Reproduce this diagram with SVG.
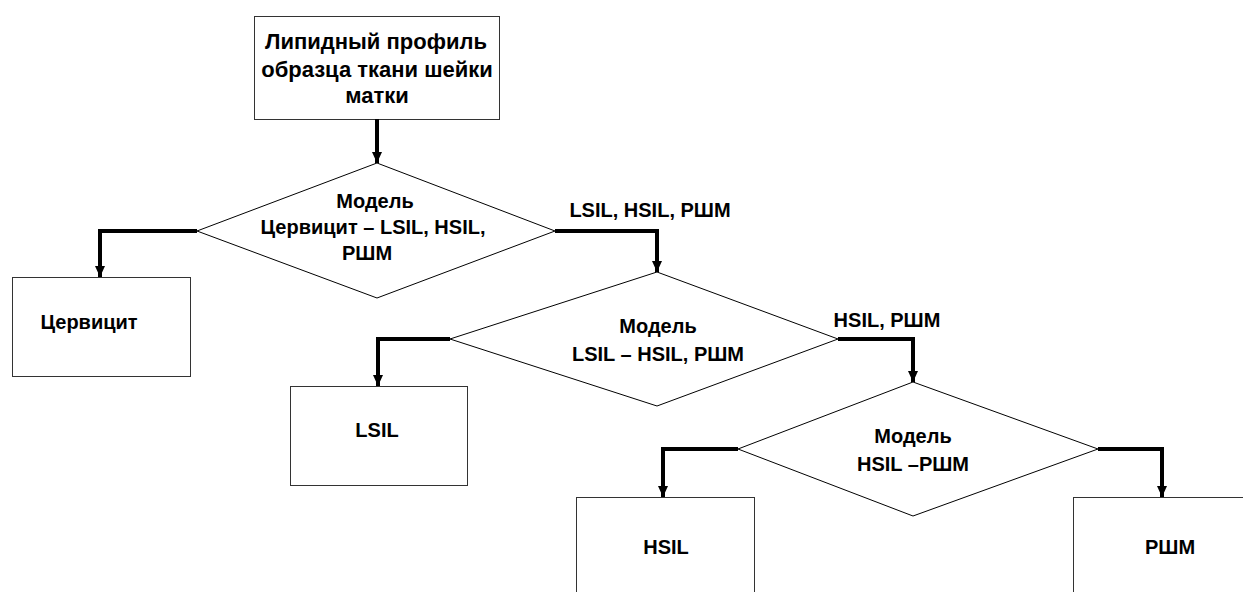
<svg xmlns="http://www.w3.org/2000/svg" width="1243" height="592" viewBox="0 0 1243 592">
<style>
.box{fill:#fff;stroke:#333;stroke-width:1}
.dia{fill:#fff;stroke:#000;stroke-width:1}
.t{font-family:"Liberation Sans",Arial,sans-serif;font-weight:bold;font-size:20px;fill:#000;text-anchor:middle}
.big{font-size:22px}
.c{fill:none;stroke:#000;stroke-width:4;marker-end:url(#ah)}
</style>
<defs>
<marker id="ah" markerUnits="userSpaceOnUse" markerWidth="12" markerHeight="12" refX="5" refY="11" orient="0" viewBox="0 0 10 12">
<path d="M0,0 L10,0 L5,11 Z" fill="#000"/>
</marker>
</defs>
<rect width="1243" height="592" fill="#fff"/>
<g id="start">
<rect class="box" x="254.5" y="16.5" width="245" height="103"/>
<text class="t big" x="376" y="49">Липидный профиль</text>
<text class="t big" x="377" y="77">образца ткани шейки</text>
<text class="t big" x="377" y="103">матки</text>
</g>
<g id="d1">
<polygon class="dia" points="377,163 555,231 377,298 197,231"/>
<text class="t" x="375" y="208">Модель</text>
<text class="t" x="373" y="234">Цервицит – LSIL, HSIL,</text>
<text class="t" x="367" y="260">РШМ</text>
</g>
<g id="cervicitis">
<rect class="box" x="12.5" y="277.5" width="178" height="99"/>
<text class="t" x="89" y="329">Цервицит</text>
</g>
<g id="d2">
<polygon class="dia" points="657,272 838,339 657,406 450,339"/>
<text class="t" x="658" y="333">Модель</text>
<text class="t" x="658" y="361">LSIL – HSIL, РШМ</text>
</g>
<g id="lsil">
<rect class="box" x="290.5" y="386.5" width="177" height="99"/>
<text class="t" x="377" y="437">LSIL</text>
</g>
<g id="d3">
<polygon class="dia" points="913,382 1098,449 913,516 738,449"/>
<text class="t" x="913" y="443">Модель</text>
<text class="t" x="913" y="471">HSIL –РШМ</text>
</g>
<g id="hsil">
<rect class="box" x="576.5" y="497.5" width="178" height="100"/>
<text class="t" x="666" y="554">HSIL</text>
</g>
<g id="rshm">
<rect class="box" x="1073.5" y="497.5" width="175" height="100"/>
<text class="t" x="1170" y="554">РШМ</text>
</g>
<g id="connectors">
<path class="c" d="M377,119 V163"/>
<path class="c" d="M197,231 H100 V277"/>
<path class="c" d="M555,231 H657 V272"/>
<path class="c" d="M450,339 H378 V386"/>
<path class="c" d="M838,339 H913 V382"/>
<path class="c" d="M738,449 H663 V497"/>
<path class="c" d="M1098,449 H1162 V497"/>
<text class="t" x="650" y="217">LSIL, HSIL, РШМ</text>
<text class="t" x="887" y="327">HSIL, РШМ</text>
</g>
</svg>
